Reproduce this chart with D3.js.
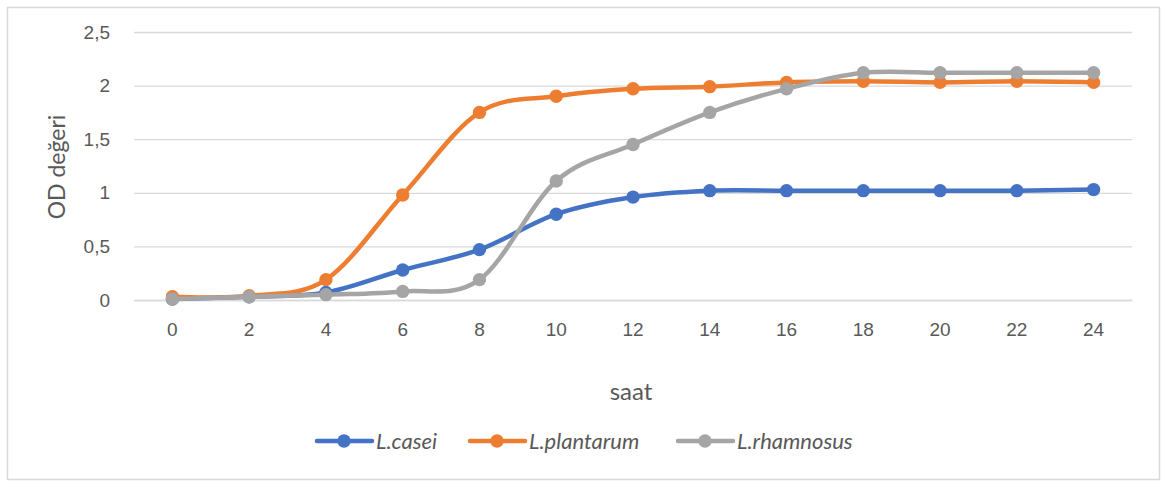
<!DOCTYPE html>
<html>
<head>
<meta charset="utf-8">
<script src="https://cdn.jsdelivr.net/npm/d3@7"></script>
<style>
  html, body { margin: 0; padding: 0; background: #fff; }
  svg { display: block; font-family: Lato, "Open Sans", "Liberation Sans", sans-serif; }
</style>
</head>
<body>
<svg id="chart" width="1161" height="481"></svg>
<script>
// Sampling times (hours)
const hours = ["0", "2", "4", "6", "8", "10", "12", "14", "16", "18", "20", "22", "24"];

// Optical density readings per strain
const casei      = [0.01, 0.03, 0.07, 0.28, 0.47, 0.80, 0.96, 1.02, 1.02, 1.02, 1.02, 1.02, 1.03];
const plantarum  = [0.03, 0.04, 0.19, 0.98, 1.75, 1.90, 1.97, 1.99, 2.03, 2.04, 2.03, 2.04, 2.03];
const rhamnosus  = [0.01, 0.03, 0.05, 0.08, 0.19, 1.11, 1.45, 1.75, 1.97, 2.12, 2.12, 2.12, 2.12];

const seriesNames  = ["L.casei", "L.plantarum", "L.rhamnosus"];
const seriesColors = ["#4472C4", "#ED7D31", "#A5A5A5"];
const yTicks = [0, 0.5, 1, 1.5, 2, 2.5];

const series = [casei, plantarum, rhamnosus].map((values, i) => ({
  name: seriesNames[i], color: seriesColors[i], values
}));

const svg = d3.select("#chart");
const plot = { left: 134, right: 1132, top: 32, bottom: 300 };

// Chart area border
svg.append("rect")
  .attr("x", 7.5).attr("y", 7.5)
  .attr("width", 1152).attr("height", 472)
  .attr("fill", "#fff").attr("stroke", "#d9d9d9").attr("stroke-width", 1.5);

const x = d3.scaleBand().domain(hours).range([plot.left, plot.right]);
const y = d3.scaleLinear().domain([0, 2.5]).range([plot.bottom, plot.top]);
const cx = d => x(d) + x.bandwidth() / 2;

// Horizontal gridlines + y labels
const yAxis = d3.axisLeft(y)
  .tickValues(yTicks)
  .tickSize(-(plot.right - plot.left))
  .tickPadding(24)
  .tickFormat(d => String(d).replace(".", ","));

const gy = svg.append("g")
  .attr("transform", `translate(${plot.left},0)`)
  .call(yAxis);
gy.select(".domain").remove();
gy.selectAll(".tick line").attr("stroke", "#d9d9d9").attr("stroke-width", 1.3);
gy.selectAll(".tick text")
  .attr("fill", "#595959").attr("font-size", 19);

// x axis labels
const xAxis = d3.axisBottom(x).tickSize(0).tickPadding(23);
const gx = svg.append("g")
  .attr("transform", `translate(0,${plot.bottom})`)
  .call(xAxis);
gx.select(".domain").attr("stroke", "#d9d9d9").attr("stroke-width", 1.3);
gx.selectAll(".tick text").attr("fill", "#595959").attr("font-size", 19);

// Axis titles
svg.append("text")
  .attr("x", 631).attr("y", 400)
  .attr("text-anchor", "middle")
  .attr("fill", "#595959").attr("font-size", 24)
  .text("saat");

svg.append("text")
  .attr("transform", "translate(65,167) rotate(-90)")
  .attr("text-anchor", "middle")
  .attr("fill", "#595959").attr("font-size", 23)
  .text("OD değeri");

// Smoothed series lines with markers
const line = d3.line()
  .x((d, i) => cx(hours[i]))
  .y(d => y(d))
  .curve(d3.curveCardinal.tension(0));

const gs = svg.append("g");
series.forEach(s => {
  const g = gs.append("g");
  g.append("path")
    .attr("d", line(s.values))
    .attr("fill", "none")
    .attr("stroke", s.color)
    .attr("stroke-width", 4.5)
    .attr("stroke-linecap", "round")
    .attr("stroke-linejoin", "round");
  g.selectAll("circle")
    .data(s.values)
    .join("circle")
    .attr("cx", (d, i) => cx(hours[i]))
    .attr("cy", d => y(d))
    .attr("r", 6.7)
    .attr("fill", s.color);
});

// Legend
const legendX = [317, 470, 678];
const legendY = 441;
const lg = svg.append("g");
series.forEach((s, i) => {
  const g = lg.append("g").attr("transform", `translate(${legendX[i]},${legendY})`);
  g.append("line")
    .attr("x1", 0).attr("x2", 55).attr("y1", 0).attr("y2", 0)
    .attr("stroke", s.color).attr("stroke-width", 4.5).attr("stroke-linecap", "round");
  g.append("circle").attr("cx", 27).attr("cy", 0).attr("r", 6.7).attr("fill", s.color);
  g.append("text")
    .attr("x", 59).attr("y", 0).attr("dy", "0.35em")
    .attr("fill", "#595959").attr("font-size", 22).attr("font-style", "italic")
    .text(s.name);
});
</script>
</body>
</html>
